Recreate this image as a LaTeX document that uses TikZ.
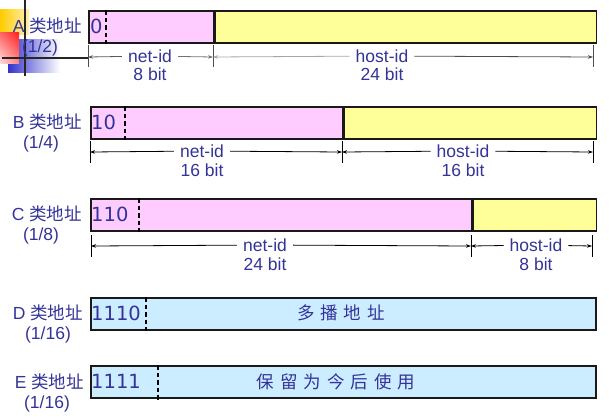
\documentclass[tikz,border=0pt]{standalone}
\usepackage{fontspec}
\setmainfont{Liberation Sans}
\newfontfamily\bitsfont{DejaVu Sans}
\newfontfamily\cjk{Noto Sans CJK SC}
\newfontfamily\cjkwide[LetterSpace=34]{Noto Sans CJK SC}
\usepackage{tikz}
\usetikzlibrary{arrows.meta,positioning,shadings}
\definecolor{ipblue}{HTML}{333399}
\definecolor{netpink}{HTML}{FFCCFF}
\definecolor{hostyellow}{HTML}{FFFF99}
\definecolor{miscblue}{HTML}{CCECFF}
\definecolor{logogold}{HTML}{FFCC00}
\definecolor{logored}{HTML}{FF2020}
\definecolor{logoblue}{HTML}{3333CC}

\begin{document}
\begin{tikzpicture}[x=1pt,y=-1pt,
  field/.style={draw=black!90,line width=1.6pt,anchor=north west,minimum height=32pt,inner sep=0pt},
  net/.style={field,fill=netpink},
  host/.style={field,fill=hostyellow},
  misc/.style={field,fill=miscblue},
  lbl/.style={text=ipblue,font=\fontsize{17.5}{20}\selectfont,inner sep=0pt},
  leadbits/.style={lbl,anchor=west,font=\fontsize{19.5}{22}\bitsfont},
  rowname/.style={lbl,anchor=east},
  dimlabel/.style={lbl,inner xsep=6pt},
  divider/.style={line width=1.2pt,dash pattern=on 4.5pt off 3pt},
  dimtick/.style={line width=0.9pt},
  dimline/.style={line width=0.8pt,-{Stealth[length=5pt,width=3.5pt]}},
  logoline/.style={line width=2pt,black!85}]
  \useasboundingbox (0,0) rectangle (609,416);
  % template logo, top left
  \shade[left color=logogold,middle color=logogold,right color=logogold!30] (0,9) rectangle (29,34);
  \shade[left color=logoblue,middle color=logoblue!90,right color=white] (8,39) rectangle (60,72);
  \shade[upper left=logored!70,upper right=logored,lower left=logored!15,lower right=logored!55] (0,32) rectangle (19,63);
  \draw[logoline] (25,0) -- (25,76);
  \draw[logoline] (2,58) -- (88,58);

  % class A
  \node[net,minimum width=125pt] (anet) at (88,10) {};
  \node[host,minimum width=381pt] (ahost) at (anet.north east) {};
  \draw[divider] ([xshift=18pt]anet.north west) -- ([xshift=18pt]anet.south west);
  \node[leadbits] (abits) at (90,26) {0};
  \node[rowname] (aname) at (82,26) {A {\cjk 类地址}};
  \node[lbl] (afrac) at (40,48) {(1/2)};
  \coordinate (a0) at (88,57); \coordinate (a1) at (213,57); \coordinate (a2) at (593,57);
  \foreach \c in {a0,a1,a2} \draw[dimtick,black!70] ([yshift=12pt]\c) -- ([yshift=-10pt]\c);
  \node[dimlabel] (anetl) at (150,56) {net-id};
  \node[lbl] (anetb) at (150,74) {8 bit};
  \node[dimlabel] (ahostl) at (382,56) {host-id};
  \node[lbl] (ahostb) at (382,74) {24 bit};
  \draw[dimline,black!65] (anetl) -- (a0);
  \draw[dimline,black!55] (anetl) -- (a1);
  \draw[dimline,black!35] (ahostl) -- (a1);
  \draw[dimline,black!70] (ahostl) -- (a2);

  % class B
  \node[net,minimum width=252pt] (bnet) at (90,106) {};
  \node[host,minimum width=252pt] (bhost) at (bnet.north east) {};
  \draw[divider] ([xshift=35pt]bnet.north west) -- ([xshift=35pt]bnet.south west);
  \node[leadbits] (bbits) at (91,122) {10};
  \node[rowname] (bname) at (82,122) {B {\cjk 类地址}};
  \node[lbl] (bfrac) at (41,144) {(1/4)};
  \coordinate (b0) at (90,152); \coordinate (b1) at (342,152); \coordinate (b2) at (593,152);
  \foreach \c in {b0,b1,b2} \draw[dimtick] ([yshift=11pt]\c) -- ([yshift=-11pt]\c);
  \node[dimlabel] (bnetl) at (202,151) {net-id};
  \node[lbl] (bnetb) at (202,170) {16 bit};
  \node[dimlabel] (bhostl) at (463,151) {host-id};
  \node[lbl] (bhostb) at (463,170) {16 bit};
  \foreach \l/\c in {bnetl/b0,bnetl/b1,bhostl/b1,bhostl/b2} \draw[dimline] (\l) -- (\c);

  % class C
  \node[net,minimum width=381pt] (cnet) at (90,198) {};
  \node[host,minimum width=123pt] (chost) at (cnet.north east) {};
  \draw[divider] ([xshift=49pt]cnet.north west) -- ([xshift=49pt]cnet.south west);
  \node[leadbits] (cbits) at (91,214) {110};
  \node[rowname] (cname) at (82,214) {C {\cjk 类地址}};
  \node[lbl] (cfrac) at (41,236) {(1/8)};
  \coordinate (c0) at (91,246); \coordinate (c1) at (471,246); \coordinate (c2) at (592,246);
  \foreach \c in {c0,c1,c2} \draw[dimtick] ([yshift=11pt]\c) -- ([yshift=-11pt]\c);
  \node[dimlabel] (cnetl) at (265,245) {net-id};
  \node[lbl] (cnetb) at (265,264) {24 bit};
  \node[dimlabel] (chostl) at (536,245) {host-id};
  \node[lbl] (chostb) at (536,264) {8 bit};
  \foreach \l/\c in {cnetl/c0,cnetl/c1,chostl/c1,chostl/c2} \draw[dimline] (\l) -- (\c);

  % class D
  \node[misc,minimum width=505pt] (dall) at (90,297) {};
  \draw[divider] ([xshift=56pt]dall.north west) -- ([xshift=56pt]dall.south west);
  \node[leadbits] (dbits) at (91,313) {1110};
  \node[rowname] (dname) at (83,313) {D {\cjk 类地址}};
  \node[lbl] (dfrac) at (48,335) {(1/16)};
  \node[lbl] (duse) at (341,313) {\cjkwide 多播地址};

  % class E
  \node[misc,minimum width=505pt] (eall) at (90,365) {};
  \draw[divider] ([xshift=68pt]eall.north west) -- ([xshift=68pt,yshift=-3pt]eall.south west);
  \node[leadbits] (ebits) at (91,381) {1111};
  \node[rowname] (ename) at (84,382) {E {\cjk 类地址}};
  \node[lbl] (efrac) at (47,404) {(1/16)};
  \node[lbl] (euse) at (336,382) {\cjkwide 保留为今后使用};
\end{tikzpicture}
\end{document}
